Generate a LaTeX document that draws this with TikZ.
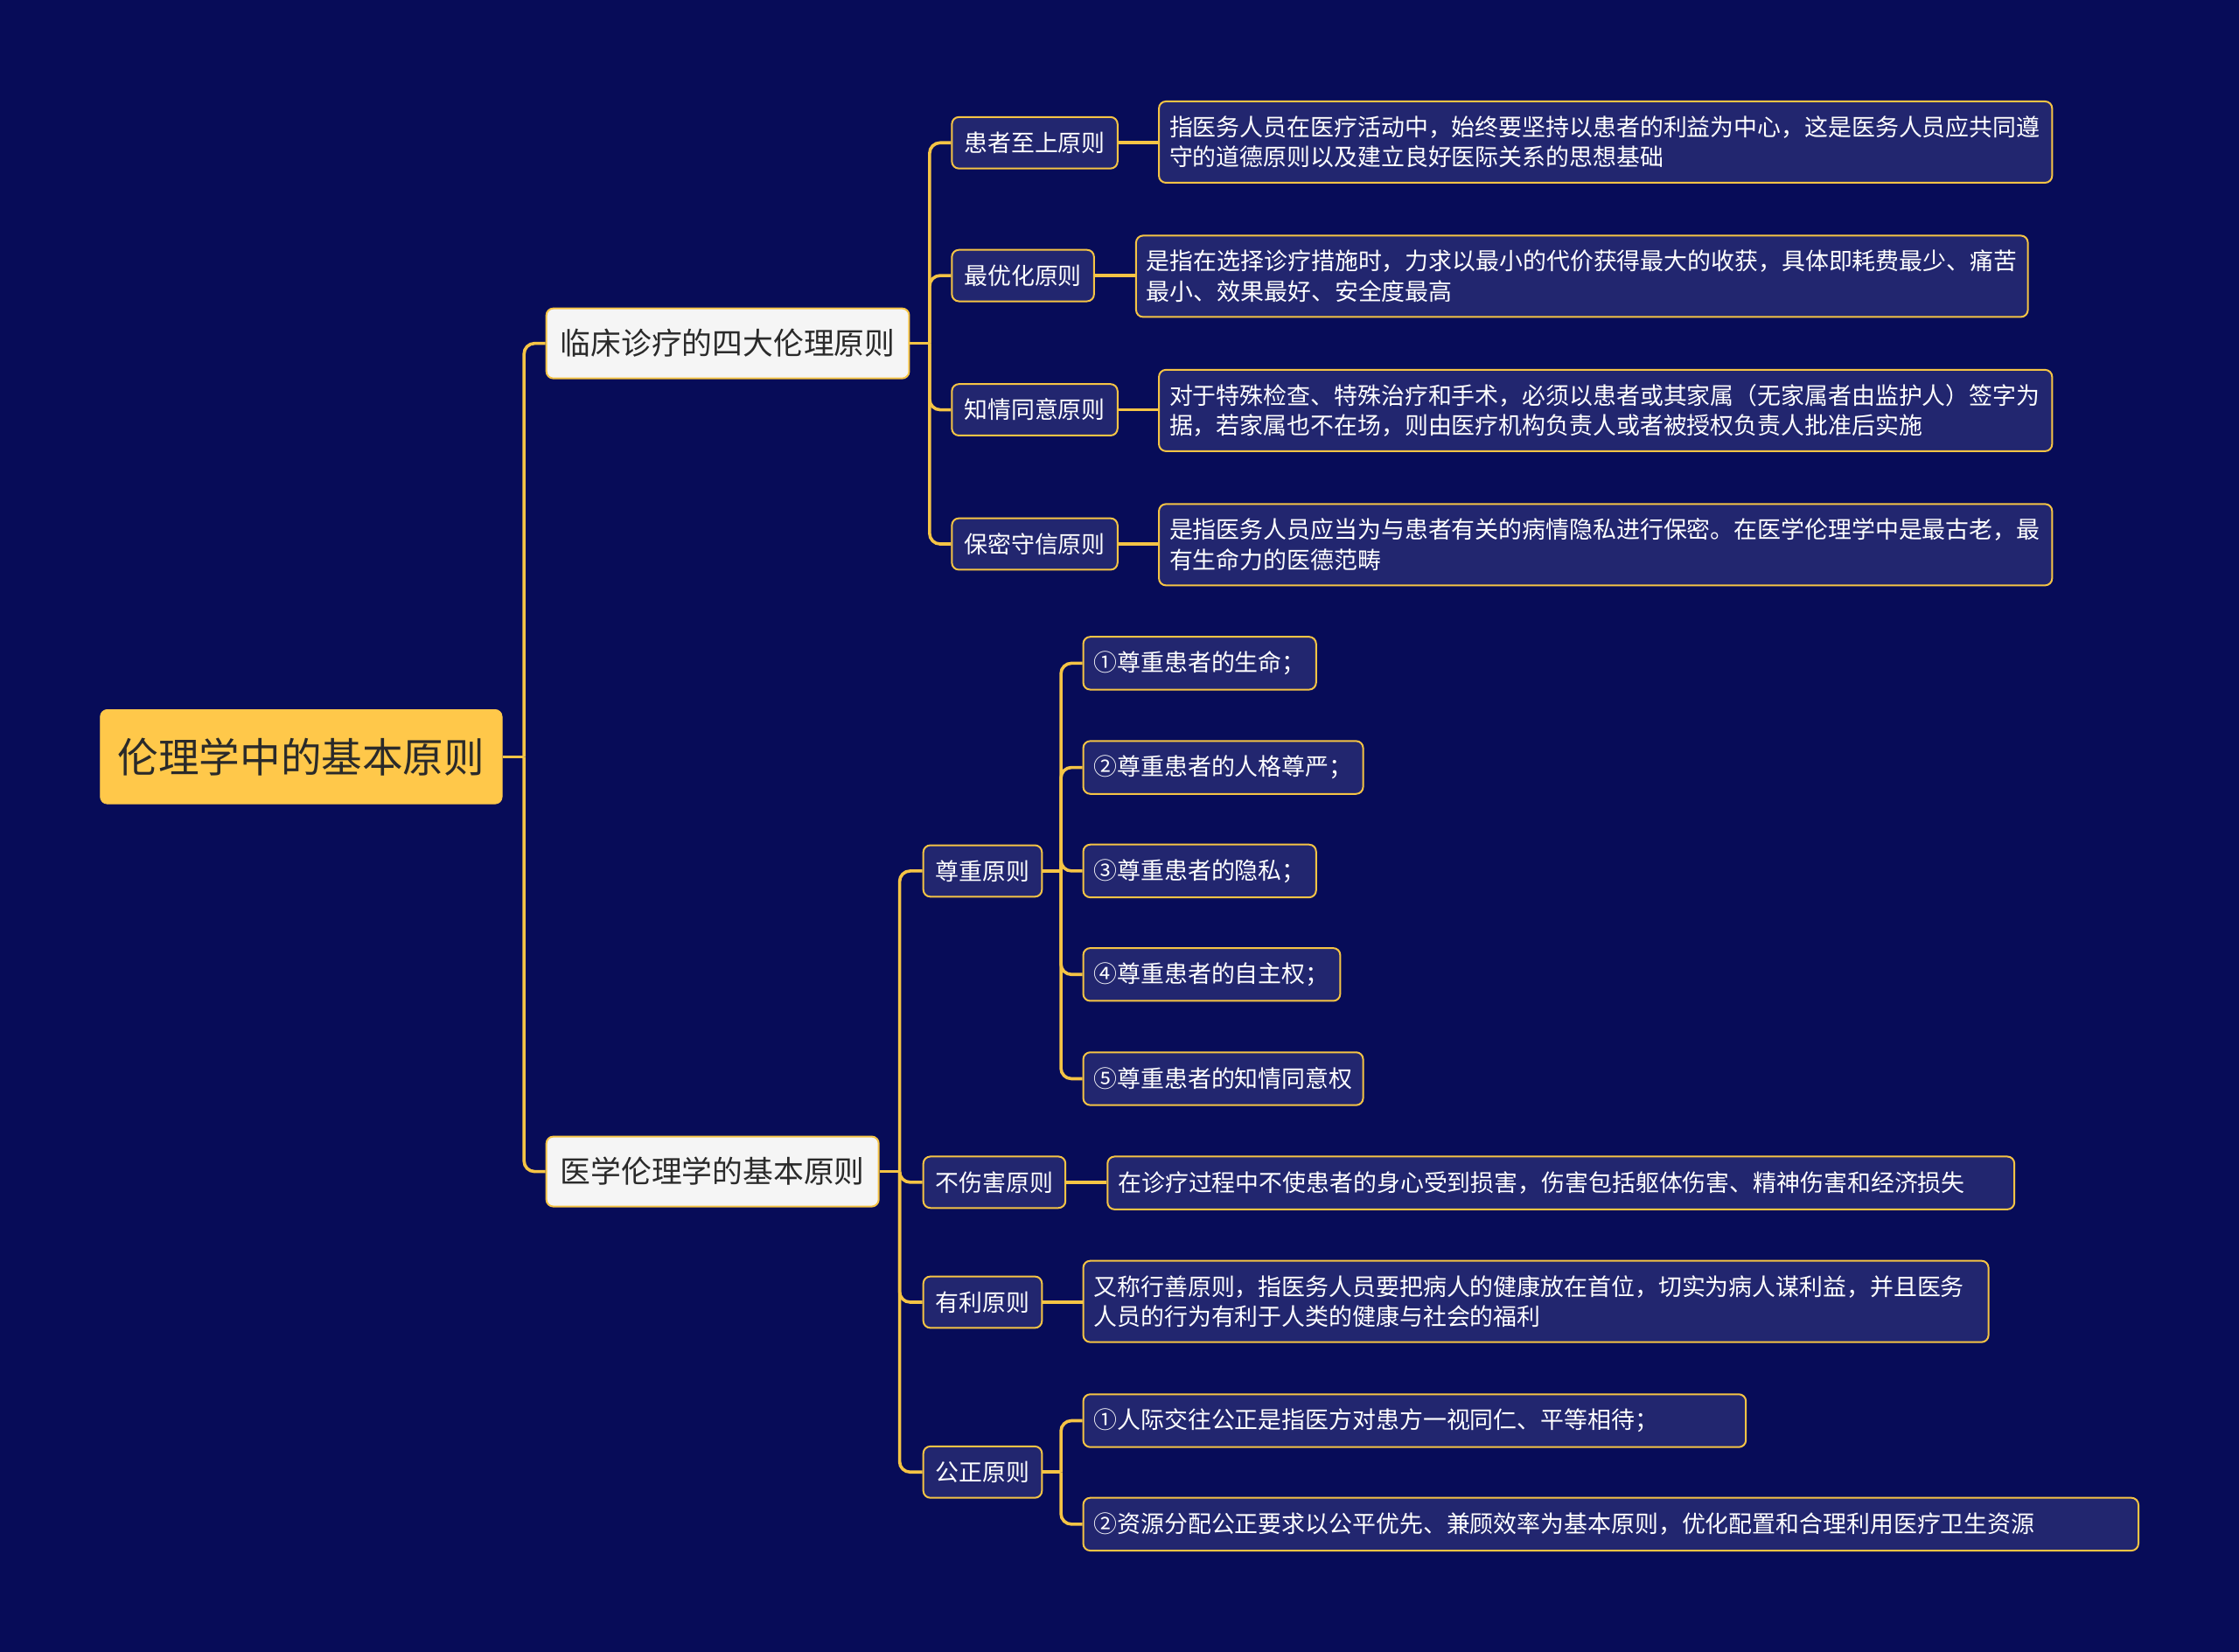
\documentclass[tikz,border=0pt]{standalone}
\usepackage{fontspec}
\setmainfont{Noto Sans CJK SC}
\usetikzlibrary{backgrounds}
\definecolor{bgc}{HTML}{070C58}
\definecolor{nodefill}{HTML}{22266F}
\definecolor{yel}{HTML}{F5C445}
\definecolor{rootfill}{HTML}{FFC84A}
\definecolor{lightfill}{HTML}{F5F5F5}
\definecolor{darktext}{HTML}{2A2A2A}
\tikzset{
  conn/.style={draw=yel, line width=1.8pt, rounded corners=6pt},
  rootbox/.style={anchor=west, rounded corners=4pt, fill=rootfill, draw=rootfill, text=darktext,
    font=\fontsize{23.3}{28}\selectfont, inner xsep=10pt, minimum height=53.9pt},
  lonebox/.style={anchor=west, rounded corners=4pt, fill=lightfill, draw=yel, line width=1pt, text=darktext,
    font=\fontsize{17.4}{21}\selectfont, inner xsep=8pt, minimum height=40pt},
  ltwobox/.style={anchor=west, rounded corners=4pt, fill=nodefill, draw=yel, line width=1pt, text=white,
    font=\fontsize{13.45}{17.2}\selectfont, inner xsep=7pt, minimum height=29.4pt},
  leafbox/.style={anchor=west, rounded corners=4pt, fill=nodefill, draw=yel, line width=1pt, text=white,
    font=\fontsize{13.45}{17.2}\selectfont, inner xsep=6pt, align=left, text width=#1, minimum height=30.2pt},
  tallleaf/.style={minimum height=46.5pt},
}
\begin{document}
\begin{tikzpicture}[x=0.8163pt, y=-0.8163pt]
\useasboundingbox (0,0) rectangle (1568,1157);
% root and level 1
\node[rootbox] (root) at (70,530) {伦理学中的基本原则};
\node[lonebox] (la) at (382,240.5) {临床诊疗的四大伦理原则};
\node[lonebox] (lb) at (382,820.5) {医学伦理学的基本原则};
% level 2 (A)
\node[ltwobox] (a1) at (666,100) {患者至上原则};
\node[ltwobox] (a2) at (666,193) {最优化原则};
\node[ltwobox] (a3) at (666,287) {知情同意原则};
\node[ltwobox] (a4) at (666,381) {保密守信原则};
% descriptions (A)
\node[leafbox=498.6pt, tallleaf] (d1) at (811,99.5) {指医务人员在医疗活动中，始终要坚持以患者的利益为中心，这是医务人员应共同遵\\守的道德原则以及建立良好医际关系的思想基础};
\node[leafbox=497.8pt, tallleaf] (d2) at (795,193.5) {是指在选择诊疗措施时，力求以最小的代价获得最大的收获，具体即耗费最少、痛苦\\最小、效果最好、安全度最高};
\node[leafbox=498.6pt, tallleaf] (d3) at (811,287.5) {对于特殊检查、特殊治疗和手术，必须以患者或其家属（无家属者由监护人）签字为\\据，若家属也不在场，则由医疗机构负责人或者被授权负责人批准后实施};
\node[leafbox=498.6pt, tallleaf] (d4) at (811,381.5) {是指医务人员应当为与患者有关的病情隐私进行保密。在医学伦理学中是最古老，最\\有生命力的医德范畴};
% level 2 (B)
\node[ltwobox] (b1) at (646,610) {尊重原则};
\node[ltwobox] (b2) at (646,828) {不伤害原则};
\node[ltwobox] (b3) at (646,912) {有利原则};
\node[ltwobox] (b4) at (646,1031) {公正原则};
% leaves (B)
\node[leafbox=121.1pt] (r1) at (758,464.5) {①尊重患者的生命；};
\node[leafbox=148pt] (r2) at (758,537.5) {②尊重患者的人格尊严；};
\node[leafbox=121.1pt] (r3) at (758,610) {③尊重患者的隐私；};
\node[leafbox=134.9pt] (r4) at (758,682.5) {④尊重患者的自主权；};
\node[leafbox=148pt] (r5) at (758,755.5) {⑤尊重患者的知情同意权};
\node[leafbox=506.4pt] (nh) at (775,828.5) {在诊疗过程中不使患者的身心受到损害，伤害包括躯体伤害、精神伤害和经济损失};
\node[leafbox=505.5pt, tallleaf] (yl) at (758,911.5) {又称行善原则，指医务人员要把病人的健康放在首位，切实为病人谋利益，并且医务\\人员的行为有利于人类的健康与社会的福利};
\node[leafbox=366.8pt] (g1) at (758,995) {①人际交往公正是指医方对患方一视同仁、平等相待；};
\node[leafbox=591.2pt] (g2) at (758,1067.5) {②资源分配公正要求以公平优先、兼顾效率为基本原则，优化配置和合理利用医疗卫生资源};
% junctions
\coordinate (jr) at (367,530);
\coordinate (ja) at (651,240.5);
\coordinate (jb) at (630,820.5);
\coordinate (jz) at (743,610);
\coordinate (jg) at (743,1031);
\begin{pgfonlayer}{background}
\fill[bgc] (0,0) rectangle (1568,1157);
% root
\draw[conn] (root.east) -- (jr);
\draw[conn] (jr) |- (la.west);
\draw[conn] (jr) |- (lb.west);
% A
\draw[conn] (la.east) -- (ja);
\foreach \n in {a1,a2,a3,a4} \draw[conn] (ja) |- (\n.west);
\draw[conn] (a1.east) -- (a1.east -| d1.west);
\draw[conn] (a2.east) -- (a2.east -| d2.west);
\draw[conn] (a3.east) -- (a3.east -| d3.west);
\draw[conn] (a4.east) -- (a4.east -| d4.west);
% B
\draw[conn] (lb.east) -- (jb);
\foreach \n in {b1,b2,b3,b4} \draw[conn] (jb) |- (\n.west);
\draw[conn] (b1.east) -- (jz);
\foreach \n in {r1,r2,r3,r4,r5} \draw[conn] (jz) |- (\n.west);
\draw[conn] (b2.east) -- (b2.east -| nh.west);
\draw[conn] (b3.east) -- (b3.east -| yl.west);
\draw[conn] (b4.east) -- (jg);
\draw[conn] (jg) |- (g1.west);
\draw[conn] (jg) |- (g2.west);
\end{pgfonlayer}
\end{tikzpicture}
\end{document}
